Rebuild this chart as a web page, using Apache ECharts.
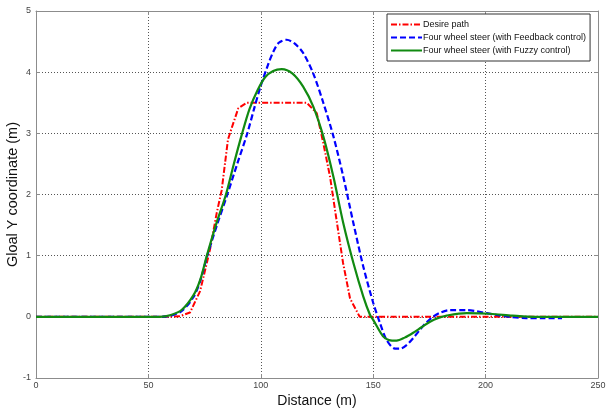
<!DOCTYPE html>
<html>
<head>
<meta charset="utf-8">
<script src="https://cdn.jsdelivr.net/npm/echarts@6/dist/echarts.min.js"></script>
<style>
html,body{margin:0;padding:0;background:#fff;}
#chart{width:606px;height:412px;}
</style>
</head>
<body>
<div id="chart"></div>
<script>
// ---- data ----
var seriesNames = ['Desire path', 'Four wheel steer (with Feedback control)', 'Four wheel steer (with Fuzzy control)'];
var xTicks = [0, 50, 100, 150, 200, 250];
var yTicks = [-1, 0, 1, 2, 3, 4, 5];

var desireX = [0, 60, 64, 68.5, 73, 77.4, 80.4, 82.6, 85.4, 87.8, 90, 93.8, 120.4, 124.9, 127.8, 130.8, 133.7, 136.6, 139.7, 144, 250];
var desireY = [0, 0, 0.01, 0.07, 0.42, 1.1, 1.7, 2.07, 2.9, 3.17, 3.41, 3.5, 3.5, 3.33, 2.84, 2.29, 1.58, 0.88, 0.3, 0, 0];

var feedbackX = [0, 55, 60, 65, 70, 73, 76.2, 80.5, 85.1, 89.5, 94, 97, 100, 103, 105.5, 108, 111.5, 115, 118.9, 123.3, 127.8, 132.3, 136.7, 141.2, 145.6, 150, 153, 156, 159.7, 162, 164.9, 168, 170.8, 173.5, 176.6, 180, 184.2, 191.6, 196, 200.5, 205, 210.9, 218, 226, 234];
var feedbackY = [0, 0, 0.02, 0.1, 0.32, 0.58, 1.0, 1.5, 2.0, 2.5, 3.0, 3.4, 3.78, 4.1, 4.33, 4.48, 4.53, 4.47, 4.31, 3.98, 3.5, 2.95, 2.29, 1.53, 0.82, 0.23, -0.1, -0.38, -0.52, -0.52, -0.46, -0.34, -0.21, -0.1, 0.0, 0.07, 0.11, 0.11, 0.09, 0.06, 0.03, 0.0, -0.02, -0.02, -0.02];

var fuzzyX = [0, 55, 60, 65, 70, 73, 76, 80, 84.5, 88, 91.7, 95, 98.5, 102, 105.5, 109.3, 114, 118.9, 123.3, 127.8, 132.3, 136.7, 141.2, 145.6, 148.6, 150, 154.4, 157, 160.4, 164, 167.8, 171.5, 175.3, 179, 182.7, 191.6, 202, 212, 222, 250];
var fuzzyY = [0, 0, 0.03, 0.12, 0.35, 0.6, 1.0, 1.5, 2.0, 2.5, 3.0, 3.4, 3.7, 3.92, 4.02, 4.05, 3.98, 3.76, 3.44, 2.95, 2.29, 1.53, 0.88, 0.33, 0.03, -0.05, -0.32, -0.38, -0.39, -0.34, -0.26, -0.17, -0.08, -0.02, 0.02, 0.06, 0.05, 0.02, 0, 0];

function pairs(xs, ys) { return xs.map(function (x, i) { return [x, ys[i]]; }); }

var chart = echarts.init(document.getElementById('chart'), null, {renderer: 'canvas'});
var font = 'Liberation Sans, Arial, sans-serif';
var gridLine = {show: true, lineStyle: {color: '#555', type: [1, 2], width: 1}};
var frameLine = {show: true, onZero: false, lineStyle: {color: '#8c8c8c', width: 1}};
var tick = {show: true, inside: true, length: 4, lineStyle: {color: '#8c8c8c'}};

chart.setOption({
  animation: false,
  backgroundColor: '#fff',
  grid: {left: 36, right: 8, top: 11, bottom: 34, containLabel: false, outerBoundsMode: 'none'},
  legend: {
    orient: 'vertical',
    left: 387, top: 14,
    backgroundColor: '#fff',
    borderColor: '#333', borderWidth: 1, borderRadius: 0,
    padding: [6, 4, 6, 3],
    itemGap: 4, itemWidth: 31, itemHeight: 10,
    itemStyle: {opacity: 0},
    textStyle: {fontFamily: font, fontSize: 9, color: '#111', padding: [0, 0, 0, -4]},
    data: seriesNames
  },
  xAxis: [{
    type: 'value', min: xTicks[0], max: xTicks[xTicks.length - 1], interval: 50,
    name: 'Distance (m)', nameLocation: 'middle', nameGap: 16, nameMoveOverlap: false,
    nameTextStyle: {fontFamily: font, fontSize: 14, color: '#111'},
    axisLine: frameLine, axisTick: tick, splitLine: gridLine,
    axisLabel: {fontFamily: font, fontSize: 9, color: '#444', margin: 3}
  }, {
    type: 'value', position: 'top', min: xTicks[0], max: xTicks[xTicks.length - 1], interval: 50,
    axisLine: frameLine, axisTick: tick, splitLine: {show: false}, axisLabel: {show: false}
  }],
  yAxis: [{
    type: 'value', min: yTicks[0], max: yTicks[yTicks.length - 1], interval: 1,
    name: 'Gloal Y coordinate (m)', nameLocation: 'middle', nameGap: 16, nameMoveOverlap: false,
    nameTextStyle: {fontFamily: font, fontSize: 14.5, color: '#111'},
    axisLine: frameLine, axisTick: tick, splitLine: gridLine,
    axisLabel: {fontFamily: font, fontSize: 9, color: '#444', margin: 5}
  }, {
    type: 'value', position: 'right', min: yTicks[0], max: yTicks[yTicks.length - 1], interval: 1,
    axisLine: frameLine, axisTick: tick, splitLine: {show: false}, axisLabel: {show: false}
  }],
  series: [{
    name: seriesNames[0], type: 'line', symbol: 'none', z: 3,
    data: pairs(desireX, desireY),
    itemStyle: {color: '#ff0000'},
    lineStyle: {color: '#ff0000', width: 2, type: [6, 2, 1.5, 2]}
  }, {
    name: seriesNames[1], type: 'line', symbol: 'none', smooth: 0.3, z: 4,
    data: pairs(feedbackX, feedbackY),
    itemStyle: {color: '#0000ff'},
    lineStyle: {color: '#0000ff', width: 2.2, type: [6, 3]}
  }, {
    name: seriesNames[2], type: 'line', symbol: 'none', smooth: 0.3, z: 5,
    data: pairs(fuzzyX, fuzzyY),
    itemStyle: {color: '#118a11'},
    lineStyle: {color: '#118a11', width: 2.2}
  }]
});
</script>
</body>
</html>
